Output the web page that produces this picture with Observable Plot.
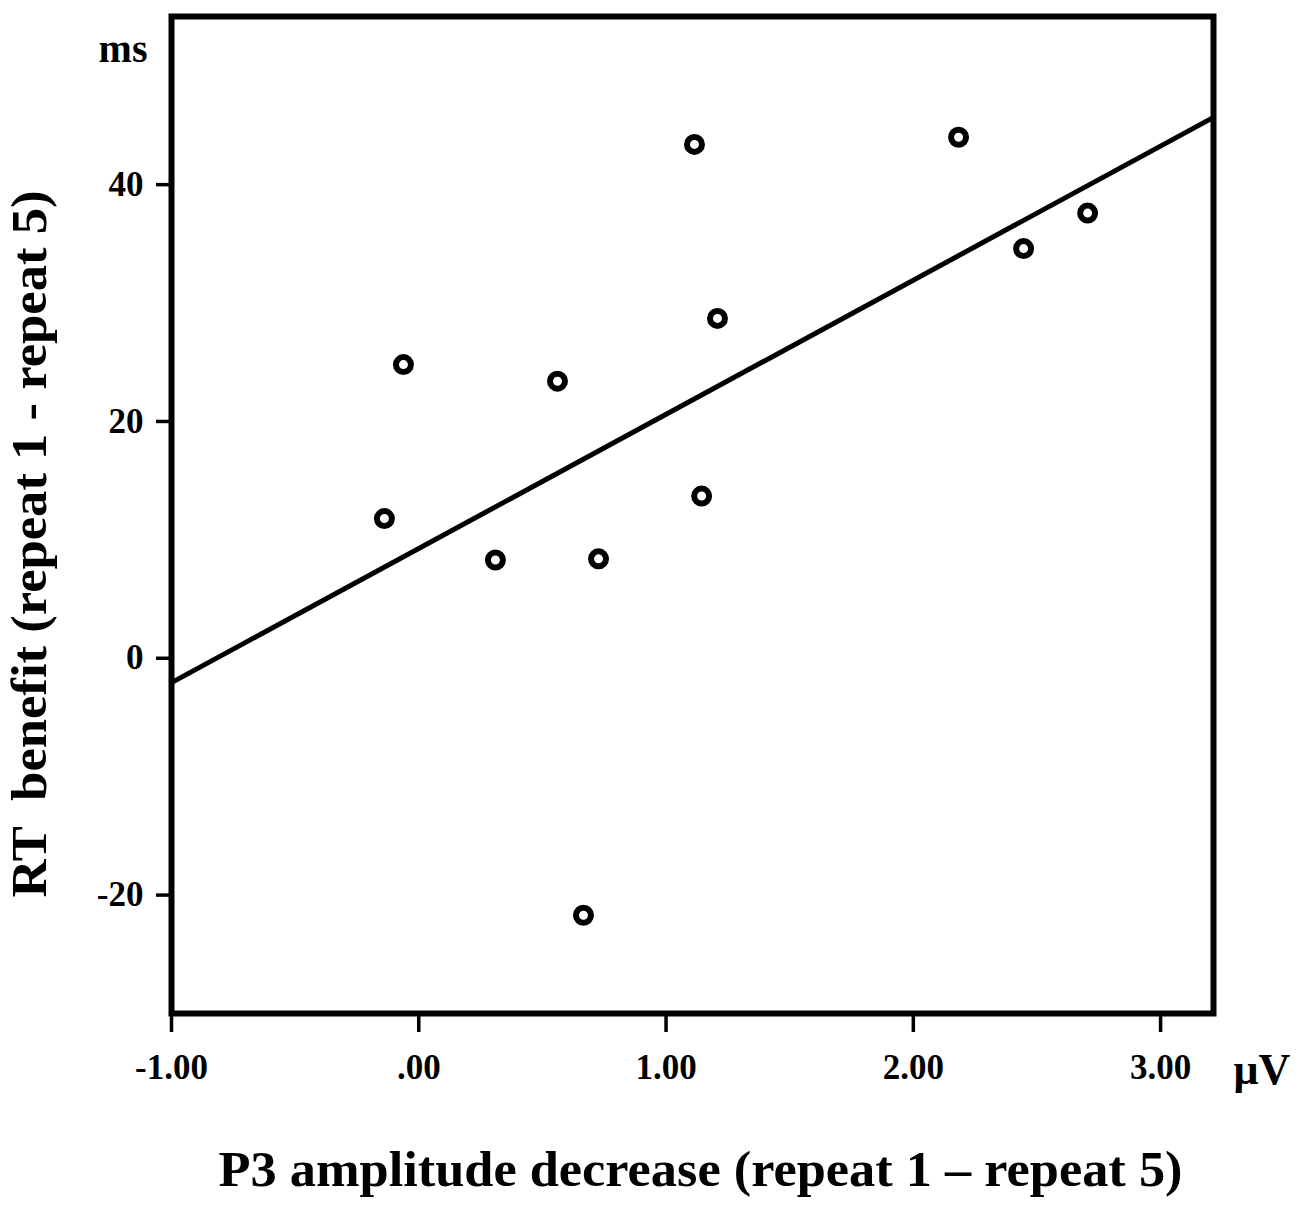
<!DOCTYPE html>
<html>
<head>
<meta charset="utf-8">
<script src="https://cdn.jsdelivr.net/npm/d3@7"></script>
<script src="https://cdn.jsdelivr.net/npm/@observablehq/plot@0.6"></script>
<style>
  html, body { margin: 0; padding: 0; background: #fff; }
  #chart { width: 1300px; height: 1207px; }
</style>
</head>
<body>
<div id="chart"></div>
<script>
// ---- data ----
const p3Decrease = [1.115, 2.183, 2.705, 2.446, 1.208, -0.062, 0.561, 1.144, -0.139, 0.310, 0.727, 0.666];
const rtBenefit  = [43.4, 44.0, 37.6, 34.6, 28.7, 24.8, 23.4, 13.7, 11.8, 8.3, 8.4, -21.7];

const xDomain = [-1, 3.214];
const yDomain = [-30, 54.2];
const xTicks = [-1, 0, 1, 2, 3];
const xTickLabels = ["-1.00", ".00", "1.00", "2.00", "3.00"];
const yTicks = [-20, 0, 20, 40];
const yTickLabels = ["-20", "0", "20", "40"];

const xTitle = "P3 amplitude decrease (repeat 1 \u2013 repeat 5)";
const yTitle = "RT  benefit (repeat 1 - repeat 5)";
const yUnit = "ms";
const xUnit = "\u03bcV";

// ---- derived table + least-squares fit over the full x domain ----
const points = p3Decrease.map((x, i) => ({x, y: rtBenefit[i]}));
const mx = d3.mean(p3Decrease), my = d3.mean(rtBenefit);
const slope = d3.sum(points, d => (d.x - mx) * (d.y - my)) / d3.sum(points, d => (d.x - mx) ** 2);
const intercept = my - slope * mx;
const fit = xDomain.map(x => ({x, y: intercept + slope * x}));

const serif = "'Liberation Serif', 'Times New Roman', Times, serif";

const chart = Plot.plot({
  width: 1300,
  height: 1207,
  marginLeft: 171,
  marginRight: 87,
  marginTop: 16,
  marginBottom: 194,
  style: {fontFamily: serif, fontWeight: "bold", fontSize: "35px", color: "#000", background: "#fff", overflow: "visible"},
  x: {domain: xDomain},
  y: {domain: yDomain},
  marks: [
    Plot.axisX({ticks: xTicks, tickFormat: (d, i) => xTickLabels[i], tickSize: 19, tickPadding: 22, strokeWidth: 3.5, label: null, fill: "#000"}),
    Plot.axisY({ticks: yTicks, tickFormat: (d, i) => yTickLabels[i], tickSize: 15, tickPadding: 13, strokeWidth: 3.5, label: null, fill: "#000"}),
    Plot.line(fit, {x: "x", y: "y", stroke: "#000", strokeWidth: 5}),
    Plot.dot(points, {x: "x", y: "y", r: 7.5, stroke: "#000", strokeWidth: 6, fill: "#fff"}),
    Plot.frame({stroke: "#000", strokeWidth: 6}),
    Plot.text([yUnit], {frameAnchor: "top-left", text: d => d, textAnchor: "end", lineAnchor: "middle", dx: -24, dy: 33, fontSize: 40, fill: "#000"}),
    Plot.text([xUnit], {frameAnchor: "bottom-right", text: d => d, textAnchor: "start", lineAnchor: "middle", dx: 20, dy: 56, fontSize: 44, fill: "#000"}),
    Plot.text([xTitle], {frameAnchor: "bottom", text: d => d, textAnchor: "middle", lineAnchor: "middle", dx: 8, dy: 156, fontSize: 50, fill: "#000"}),
    Plot.text([yTitle], {frameAnchor: "left", text: d => d, rotate: -90, textAnchor: "middle", lineAnchor: "middle", dx: -142, dy: 29, fontSize: 50, fill: "#000"})
  ]
});

// slightly stretched titles, as in the reference
d3.select(chart).selectAll("text").each(function () {
  const t = this.textContent;
  if (t === xTitle) { this.setAttribute("textLength", 964); this.setAttribute("lengthAdjust", "spacingAndGlyphs"); }
  if (t === yTitle) { this.setAttribute("textLength", 707); this.setAttribute("lengthAdjust", "spacingAndGlyphs"); }
});

document.getElementById("chart").appendChild(chart);
</script>
</body>
</html>
